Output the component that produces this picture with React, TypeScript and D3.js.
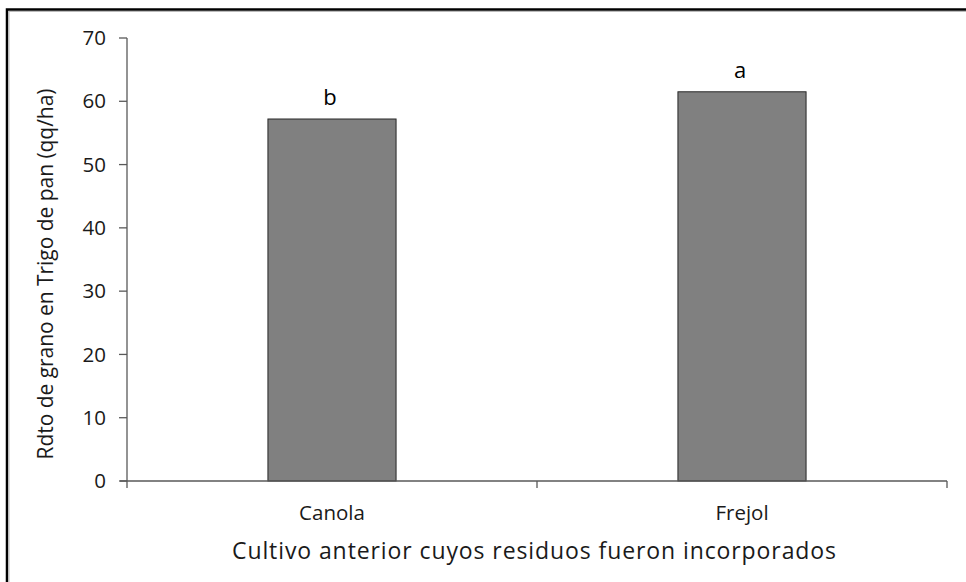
import React from "react";
import * as d3 from "d3";

const categories = ["Canola", "Frejol"];
const values = [57.2, 61.5];
const letters = ["b", "a"];
const yTicks = [0, 10, 20, 30, 40, 50, 60, 70];
const yTitle = "Rdto de grano en Trigo de pan (qq/ha)";
const xTitle = "Cultivo anterior cuyos residuos fueron incorporados";

const W = 966;
const H = 582;
const FONT = "'Open Sans', sans-serif";

export default function App() {
  const x = d3.scaleBand<string>().domain(categories).range([127, 947]).padding(0);
  const y = d3.scaleLinear().domain([0, 70]).range([481, 38]);
  const bw = x.bandwidth() / 3.2;
  const axisColor = "#595959";
  const textColor = "#1a1a1a";
  const boundaries = categories.map((c) => (x(c) as number) + x.bandwidth());

  return (
    <svg width={W} height={H} style={{ position: "absolute", left: 0, top: 0, background: "#fff" }}>
      {/* frame */}
      <path d={`M7,${H} V9.5 H${W}`} fill="none" stroke="#000" strokeWidth={2.5} />
      <path d={`M9,${H} V11.5 H${W}`} fill="none" stroke="#bbb" strokeWidth={1} />

      {/* bars */}
      {categories.map((c, i) => {
        const cx = (x(c) as number) + x.bandwidth() / 2;
        return (
          <g key={c}>
            <rect
              x={cx - bw / 2}
              y={y(values[i])}
              width={bw}
              height={y(0) - y(values[i])}
              fill="#808080"
              stroke="#262626"
              strokeWidth={1}
            />
            <text
              x={cx - 2}
              y={y(values[i]) - 14}
              textAnchor="middle"
              fontFamily={FONT}
              fontSize={22}
              fill="#000"
            >
              {letters[i]}
            </text>
            <text
              x={cx}
              y={520}
              textAnchor="middle"
              fontFamily={FONT}
              fontSize={20.5}
              fill={textColor}
            >
              {c}
            </text>
          </g>
        );
      })}

      {/* y axis */}
      <line x1={127} x2={127} y1={y(70)} y2={488} stroke={axisColor} strokeWidth={1.3} />
      {yTicks.map((t) => (
        <g key={t}>
          <line x1={119} x2={127} y1={y(t)} y2={y(t)} stroke={axisColor} strokeWidth={1.3} />
          <text
            x={106}
            y={y(t)}
            dy="0.35em"
            textAnchor="end"
            fontFamily={FONT}
            fontSize={20.5}
            fill={textColor}
          >
            {t}
          </text>
        </g>
      ))}

      {/* x axis */}
      <line x1={120} x2={947} y1={y(0)} y2={y(0)} stroke={axisColor} strokeWidth={1.3} />
      {boundaries.map((b, i) => (
        <line key={i} x1={b} x2={b} y1={y(0)} y2={488} stroke={axisColor} strokeWidth={1.3} />
      ))}

      {/* titles */}
      <text
        x={534}
        y={559}
        textAnchor="middle"
        fontFamily={FONT}
        fontSize={23}
        textLength={604}
        lengthAdjust="spacing"
        fill={textColor}
      >
        {xTitle}
      </text>
      <text
        transform={`translate(53, ${274}) rotate(-90)`}
        textAnchor="middle"
        fontFamily={FONT}
        fontSize={21}
        textLength={371}
        lengthAdjust="spacing"
        fill={textColor}
      >
        {yTitle}
      </text>
    </svg>
  );
}
